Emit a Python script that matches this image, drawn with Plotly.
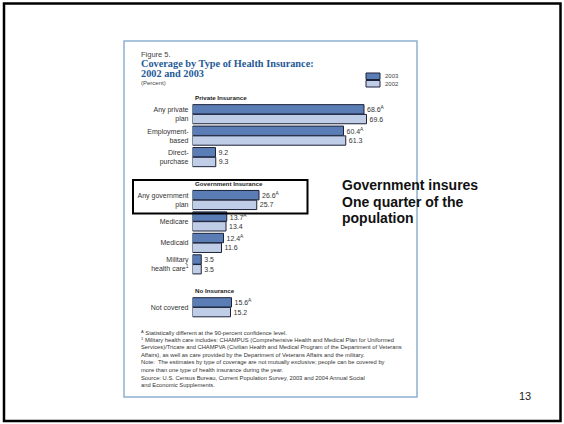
import plotly.graph_objects as go

# ---------------- data ----------------
section_titles = ["Private Insurance", "Government Insurance", "No Insurance"]
section_categories = [
    ["Any private<br>plan", "Employment-<br>based", "Direct-<br>purchase"],
    ["Any government<br>plan", "Medicare", "Medicaid", "Military<br>health care<sup>1</sup>"],
    ["Not covered"],
]
values_2003 = [68.6, 60.4, 9.2, 26.6, 13.7, 12.4, 3.5, 15.6]
values_2002 = [69.6, 61.3, 9.3, 25.7, 13.4, 11.6, 3.5, 15.2]
significant_2003 = [True, True, False, True, True, True, False, True]

footnotes = [
    "<sup>A</sup> Statistically different at the 90-percent confidence level.",
    "<sup>1</sup> Military health care includes: CHAMPUS (Comprehensive Health and Medical Plan for Uniformed",
    "Services)/Tricare and CHAMPVA (Civilian Health and Medical Program of the Department of Veterans",
    "Affairs), as well as care provided by the Department of Veterans Affairs and the military.",
    "Note:  The estimates by type of coverage are not mutually exclusive; people can be covered by",
    "more than one type of health insurance during the year.",
    "Source: U.S. Census Bureau, Current Population Survey, 2003 and 2004 Annual Social",
    "and Economic Supplements.",
]

# ---------------- derived slots (one empty slot between sections) ----------------
labels, slots, section_slot = [], [], []
s = 0
for sec, cats in zip(section_titles, section_categories):
    section_slot.append(s)
    for c in cats:
        labels.append(c)
        slots.append(s)
        s += 1
    s += 1

W, H = 564, 424
def px(x):
    return x / W
def py(y):
    return 1 - y / H

# pixel geometry of the chart area
x0_pix, x1_pix, unit_pix = 192.5, 417.0, 2.5
slot0_pix, pitch_pix = 114.2, 21.45

C2003 = "#5b7db5"
C2002 = "#c0cde6"
EDGE = "#1c2238"
TXT = "#333333"
SANS = "Liberation Sans, Arial, sans-serif"

text_2003 = [f"{v}<sup>A</sup>" if sig else f"{v}" for v, sig in zip(values_2003, significant_2003)]
text_2002 = [f"{v}" for v in values_2002]

fig = go.Figure()
fig.add_trace(go.Bar(
    y=slots, x=values_2003, orientation="h", name="2003",
    marker=dict(color=C2003, line=dict(color=EDGE, width=1)),
    text=text_2003, textposition="outside", cliponaxis=False, constraintext="none",
    textfont=dict(family=SANS, size=7, color=TXT),
))
fig.add_trace(go.Bar(
    y=slots, x=values_2002, orientation="h", name="2002",
    marker=dict(color=C2002, line=dict(color=EDGE, width=1)),
    text=text_2002, textposition="outside", cliponaxis=False, constraintext="none",
    textfont=dict(family=SANS, size=7, color=TXT),
))

y_top = -slot0_pix / pitch_pix
y_bot = (H - slot0_pix) / pitch_pix

fig.update_layout(
    width=W, height=H,
    margin=dict(l=0, r=0, t=0, b=0),
    paper_bgcolor="white", plot_bgcolor="rgba(0,0,0,0)",
    barmode="group", bargap=0.09, bargroupgap=0.04,
    showlegend=False,
    xaxis=dict(domain=[px(x0_pix), px(x1_pix)], range=[0, (x1_pix - x0_pix) / unit_pix],
               showgrid=False, zeroline=False, showticklabels=False, showline=False),
    yaxis=dict(domain=[0, 1], range=[y_bot, y_top], showgrid=False, zeroline=False,
               showline=False, tickmode="array", tickvals=slots, ticktext=labels,
               ticks="", ticklabelstandoff=3,
               tickfont=dict(family=SANS, size=7, color=TXT)),
    font=dict(family=SANS, size=7),
)

shapes = []
# outer slide border
shapes.append(dict(type="rect", xref="paper", yref="paper", x0=px(4), x1=px(560.5), y0=py(421), y1=py(3.5),
                   line=dict(color="black", width=2.5), layer="above"))
# figure frame
shapes.append(dict(type="rect", xref="paper", yref="paper", x0=px(124), x1=px(417), y0=py(397), y1=py(41),
                   line=dict(color="#8fb0d2", width=1.5), layer="above"))
# highlight box
shapes.append(dict(type="rect", xref="paper", yref="paper", x0=px(133), x1=px(307.5), y0=py(213.5), y1=py(180),
                   line=dict(color="black", width=2), layer="above"))
# legend swatches
shapes.append(dict(type="rect", xref="paper", yref="paper", x0=px(366), x1=px(380), y0=py(79.5), y1=py(73),
                   fillcolor=C2003, line=dict(color=EDGE, width=1)))
shapes.append(dict(type="rect", xref="paper", yref="paper", x0=px(366), x1=px(380), y0=py(87), y1=py(80.5),
                   fillcolor=C2002, line=dict(color=EDGE, width=1)))
fig.update_layout(shapes=shapes)

ann = []
def add_text(x, y, text, size, color=TXT, family=SANS, xanchor="left", bold=False):
    ann.append(dict(xref="paper", yref="paper", x=px(x), y=py(y), text=(f"<b>{text}</b>" if bold else text),
                    showarrow=False, xanchor=xanchor, yanchor="middle",
                    font=dict(size=size, color=color, family=family), align="left"))

add_text(139, 54, "Figure 5.", 7.5, color="#444444")
add_text(139, 63.5, "Coverage by Type of Health Insurance:", 10.3, color="#1f5a96",
         family="Liberation Serif, DejaVu Serif, serif", bold=True)
add_text(139, 73.5, "2002 and 2003", 10.3, color="#1f5a96",
         family="Liberation Serif, DejaVu Serif, serif", bold=True)
add_text(139, 83, "(Percent)", 6, color="#444444")
add_text(382.5, 76, "2003", 6, color="#444444")
add_text(382.5, 83.5, "2002", 6, color="#444444")

# section headers
for title, sl in zip(section_titles, section_slot):
    ann.append(dict(xref="x", yref="y", x=0, y=sl - 0.78, text=f"<b>{title}</b>", showarrow=False,
                    xanchor="left", yanchor="middle", font=dict(size=6.2, color="#222222", family=SANS)))

# footnotes
for i, line in enumerate(footnotes):
    add_text(139, 332 + i * 7.6, line, 5.8, color="#333333")

# side comment
add_text(340, 185, "Government insures", 14, color="#111111", bold=True)
add_text(340, 201.5, "One quarter of the", 14, color="#111111", bold=True)
add_text(340, 218, "population", 14, color="#111111", bold=True)

# slide number
add_text(525, 396, "13", 11, color="#222222", xanchor="center")

fig.update_layout(annotations=ann)
fig.write_html("out.html", config={"displayModeBar": False},
               post_script="document.body.style.margin='0px';")
